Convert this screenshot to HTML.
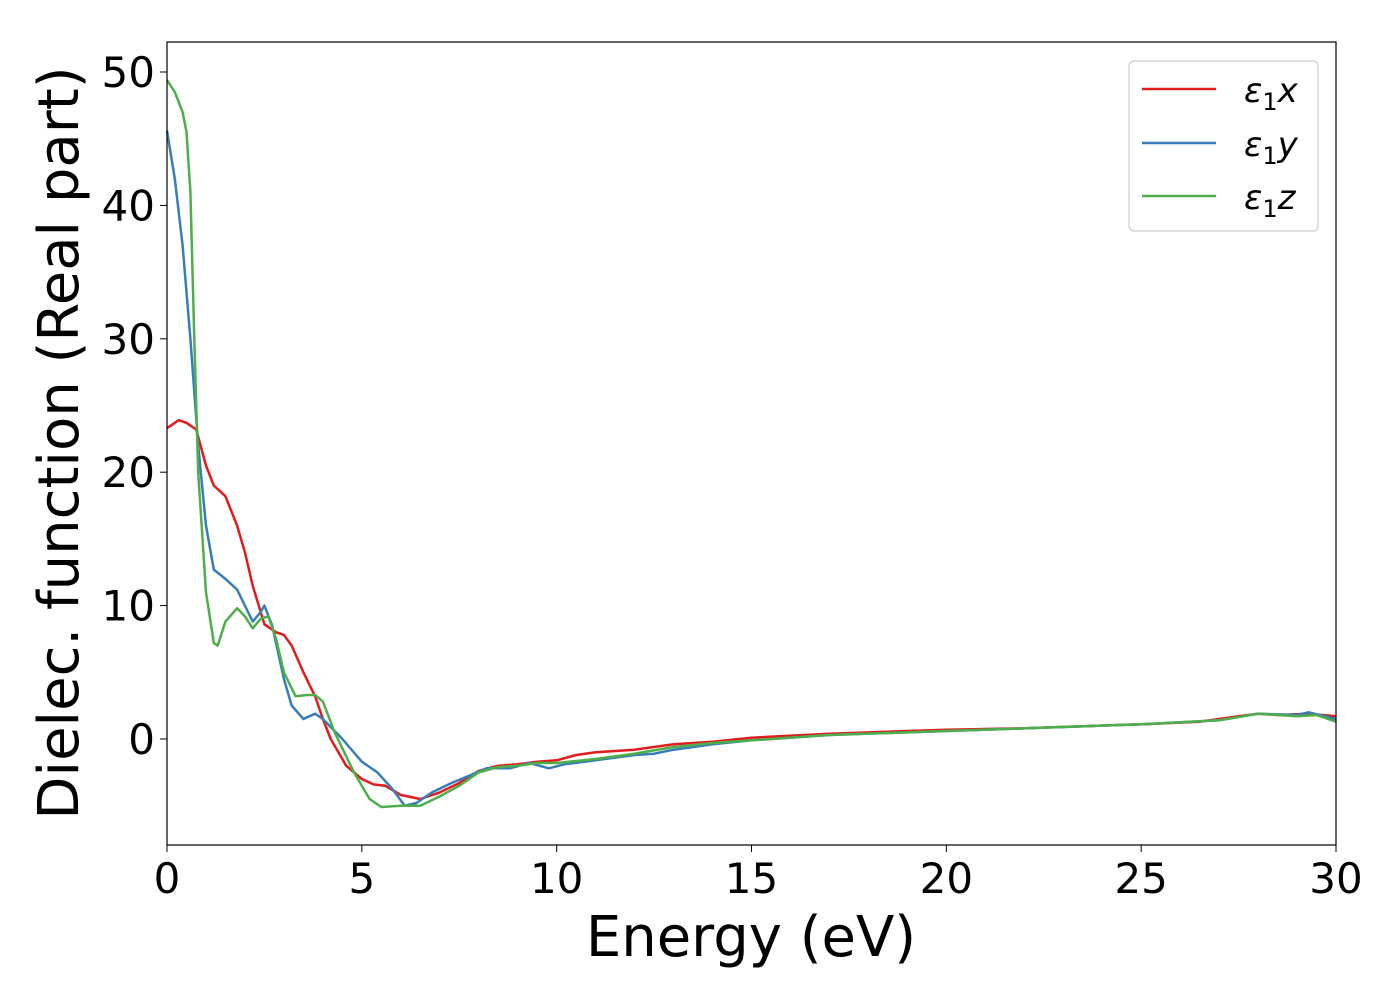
<!DOCTYPE html>
<html><head><meta charset="utf-8"><style>
body{margin:0;background:#fff}
svg{display:block;font-family:"DejaVu Sans","Liberation Sans",sans-serif}
</style></head><body>
<svg id="chart" width="1400" height="1000" viewBox="0 0 1400 1000">
<g id="series"></g>
<rect x="167" y="42" width="1169" height="803" fill="none" stroke="#000" stroke-width="1.2"/>
<g id="xt"></g>
<g id="yt"></g>
<text x="751" y="956" font-size="56" text-anchor="middle">Energy (eV)</text>
<text transform="translate(78,443) rotate(-90)" font-size="56" text-anchor="middle">Dielec. function (Real part)</text>
<g>
<rect x="1129" y="61" width="189" height="170" rx="5" fill="#fff" stroke="#ccc" stroke-width="1.2"/>
<line x1="1142" y1="89" x2="1216" y2="89" stroke="#e41a1c" stroke-width="2.5"/>
<line x1="1142" y1="143" x2="1216" y2="143" stroke="#377eb8" stroke-width="2.5"/>
<line x1="1142" y1="196" x2="1216" y2="196" stroke="#4daf4a" stroke-width="2.5"/>
<text x="1244" y="102" font-size="34" font-style="italic">ε<tspan font-style="normal" font-size="24" dy="8">1</tspan><tspan dy="-8">x</tspan></text>
<text x="1244" y="156" font-size="34" font-style="italic">ε<tspan font-style="normal" font-size="24" dy="8">1</tspan><tspan dy="-8">y</tspan></text>
<text x="1244" y="209" font-size="34" font-style="italic">ε<tspan font-style="normal" font-size="24" dy="8">1</tspan><tspan dy="-8">z</tspan></text>
</g>
</svg>
<script>
const xTicks=[0,5,10,15,20,25,30];
const yTicks=[0,10,20,30,40,50];
const redX=[0,0.3,0.5,0.75,1.0,1.2,1.5,1.8,2.0,2.2,2.5,2.8,3.0,3.2,3.5,3.8,4.0,4.2,4.6,5.0,5.3,5.6,6.0,6.5,7.0,7.5,8.0,8.5,9,9.5,10,10.5,11,12,13,14,15,17,20,22,25,26.5,27.5,28,28.5,29.3,30];
const redY=[23.3,23.9,23.7,23.2,20.5,19,18.2,16,14,11.5,8.6,8,7.8,7,5,3.2,1.5,0,-2,-3,-3.4,-3.5,-4.2,-4.5,-4,-3.3,-2.4,-2,-1.9,-1.7,-1.6,-1.2,-1.0,-0.8,-0.4,-0.2,0.1,0.4,0.7,0.8,1.1,1.3,1.7,1.9,1.8,1.9,1.7];
const blueX=[0,0.2,0.4,0.6,0.8,1.0,1.2,1.5,1.8,2.0,2.2,2.4,2.5,2.7,3.0,3.2,3.5,3.8,4.0,4.5,5.0,5.4,5.8,6.1,6.4,6.8,7.3,7.8,8.2,8.8,9.3,9.8,10.2,11,12,12.5,13,14,15,17,20,25,27,28,29,29.3,30];
const blueY=[45.6,42,37,30,22,16,12.7,12,11.2,10,8.8,9.5,10,8.5,4.5,2.5,1.5,1.9,1.5,0,-1.7,-2.5,-3.8,-5.0,-4.8,-4,-3.3,-2.7,-2.2,-2.2,-1.8,-2.2,-1.9,-1.6,-1.2,-1.1,-0.8,-0.4,-0.1,0.3,0.6,1.1,1.4,1.9,1.8,2.0,1.5];
const greenX=[0,0.2,0.4,0.5,0.6,0.7,0.8,1.0,1.2,1.3,1.5,1.8,2.0,2.2,2.4,2.6,2.8,3.0,3.3,3.6,3.8,4.0,4.3,4.8,5.2,5.5,6.0,6.5,7.0,7.5,8.0,8.5,9.0,9.5,10,11,12,13,14,15,17,20,25,27,28,29,29.5,30];
const greenY=[49.4,48.5,47,45.5,41,30,20,11,7.2,7.0,8.8,9.8,9.2,8.3,9,9.2,7.5,5,3.2,3.3,3.3,2.8,0.5,-2.5,-4.5,-5.1,-5,-5,-4.3,-3.5,-2.5,-2.1,-2,-1.8,-1.8,-1.5,-1.1,-0.6,-0.3,-0.1,0.3,0.6,1.1,1.4,1.9,1.7,1.8,1.3];
const X=v=>167+v*(1169/30);
const Y=v=>739-v*13.34;
const NS='http://www.w3.org/2000/svg';
const sg=document.getElementById('series');
function addLine(xs,ys,color,name){
  const p=document.createElementNS(NS,'polyline');
  p.setAttribute('points',xs.map((x,i)=>X(x).toFixed(1)+','+Y(ys[i]).toFixed(1)).join(' '));
  p.setAttribute('fill','none');p.setAttribute('stroke',color);p.setAttribute('stroke-width','2.5');
  p.setAttribute('stroke-linejoin','round');
  
  
  sg.appendChild(p);
}
addLine(redX,redY,'#e41a1c','series-eps1-x');
addLine(blueX,blueY,'#377eb8','series-eps1-y');
addLine(greenX,greenY,'#4daf4a','series-eps1-z');
const xt=document.getElementById('xt');
xTicks.forEach(t=>{
  const l=document.createElementNS(NS,'line');
  l.setAttribute('x1',X(t));l.setAttribute('x2',X(t));l.setAttribute('y1',845);l.setAttribute('y2',852);l.setAttribute('stroke','#000');
  
  
  xt.appendChild(l);
  const s=document.createElementNS(NS,'text');
  s.setAttribute('x',X(t));s.setAttribute('y',893);s.setAttribute('font-size','42');s.setAttribute('text-anchor','middle');
  s.textContent=t;
  
  
  xt.appendChild(s);
});
const yt=document.getElementById('yt');
yTicks.forEach(t=>{
  const l=document.createElementNS(NS,'line');
  l.setAttribute('x1',160);l.setAttribute('x2',167);l.setAttribute('y1',Y(t));l.setAttribute('y2',Y(t));l.setAttribute('stroke','#000');
  
  
  yt.appendChild(l);
  const s=document.createElementNS(NS,'text');
  s.setAttribute('x',155);s.setAttribute('y',Y(t)+15);s.setAttribute('font-size','42');s.setAttribute('text-anchor','end');
  s.textContent=t;
  
  
  yt.appendChild(s);
});
</script>
</body></html>
